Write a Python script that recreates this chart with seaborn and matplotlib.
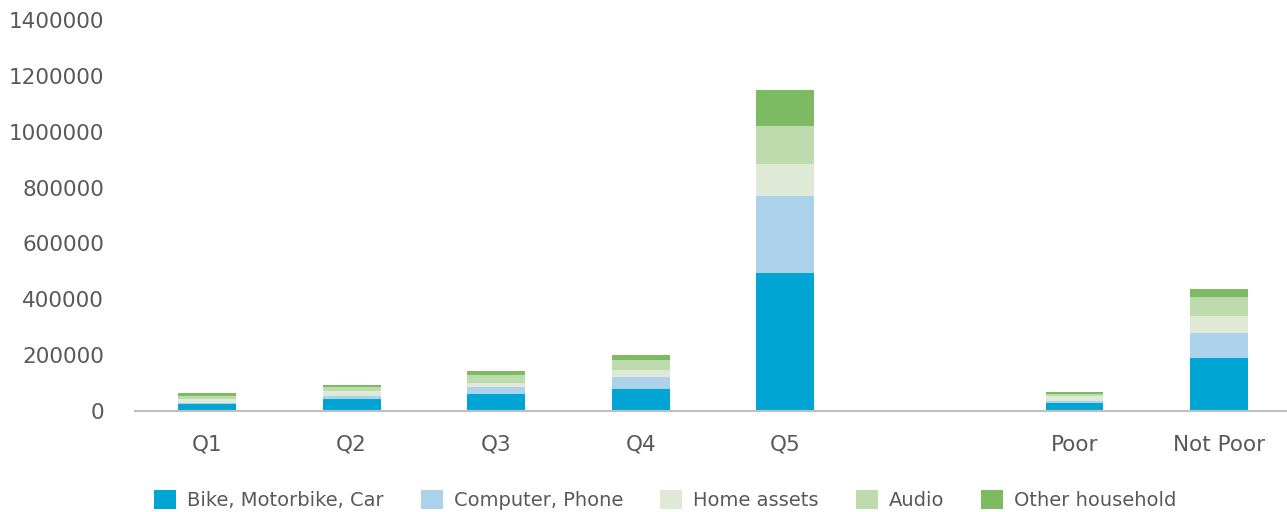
"""Stacked bar chart of household asset values by quintile and poverty status."""

import pandas as pd
import seaborn as sns
import matplotlib.pyplot as plt
import numpy as np

# Categories (blank slot separates quintiles from poverty groups)
categories = ['Q1', 'Q2', 'Q3', 'Q4', 'Q5', '', 'Poor', 'Not Poor']

# Series values
bike_motorbike_car = [24000, 42000, 60000, 78000, 495000, 0, 29000, 190000]
computer_phone = [5000, 11000, 25000, 43000, 276000, 0, 7000, 90000]
home_assets = [13000, 18000, 17000, 25000, 112000, 0, 18000, 61000]
audio = [11000, 14000, 26000, 36000, 139000, 0, 7000, 68000]
other_household = [11000, 7000, 14000, 18000, 129000, 0, 7000, 29000]

series_names = ['Bike, Motorbike, Car', 'Computer, Phone', 'Home assets',
                'Audio', 'Other household']
series_values = [bike_motorbike_car, computer_phone, home_assets,
                 audio, other_household]
colors = ['#00A5D4', '#ABD2EA', '#DEE9D6', '#BEDBAE', '#7DBB63']

yticks = [0, 200000, 400000, 600000, 800000, 1000000, 1200000, 1400000]


def main():
    sns.set_style('white')
    plt.rcParams['font.family'] = ['DejaVu Sans']
    text_color = '#595959'

    fig = plt.figure(figsize=(12.87, 5.12), dpi=100)
    ax = fig.add_axes([0.1047, 0.197, 0.8987, 0.764])

    bottom = np.zeros(len(categories))
    for name, vals, col in zip(series_names, series_values, colors):
        df = pd.DataFrame({'cat': categories, 'val': vals})
        sns.barplot(data=df, x='cat', y='val', order=categories,
                    color=col, saturation=1, width=0.4, bottom=bottom,
                    label=name, ax=ax, linewidth=0, errorbar=None)
        bottom = bottom + np.array(vals)

    ax.set_ylim(0, 1400000)
    ax.set_xlim(-0.5, len(categories) - 0.5)
    ax.set_yticks(yticks)
    ax.set_yticklabels([str(v) for v in yticks])
    ax.set_xlabel('')
    ax.set_ylabel('')

    ax.tick_params(axis='y', length=0, pad=22, labelsize=15.5,
                   labelcolor=text_color)
    ax.tick_params(axis='x', length=0, pad=17, labelsize=15.5,
                   labelcolor=text_color)

    for side in ['left', 'right', 'top']:
        ax.spines[side].set_visible(False)
    ax.spines['bottom'].set_color('#BFBFBF')
    ax.spines['bottom'].set_linewidth(1.5)
    ax.grid(False)

    handles, labels = ax.get_legend_handles_labels()
    if ax.legend_:
        ax.legend_.remove()
    fig.legend(handles, labels, loc='lower center', ncol=5,
               bbox_to_anchor=(0.517, -0.03), frameon=False,
               fontsize=14, labelcolor=text_color,
               handlelength=1.13, handleheight=1.13,
               handletextpad=0.57, columnspacing=1.9)

    fig.savefig('out.png', dpi=100, facecolor='white')
    plt.close(fig)


if __name__ == '__main__':
    main()
